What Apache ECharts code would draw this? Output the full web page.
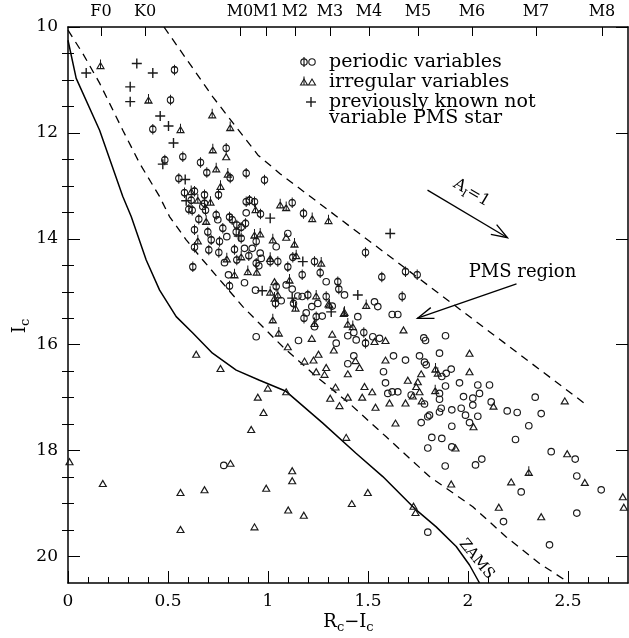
<!DOCTYPE html>
<html>
<head>
<meta charset="utf-8">
<script src="https://cdn.jsdelivr.net/npm/echarts@6/dist/echarts.min.js"></script>
<style>
  html, body { margin: 0; padding: 0; background: #fff; }
  #chart { width: 629px; height: 638px; }
</style>
</head>
<body>
<div id="chart"></div>
<script>
// Colour-magnitude diagram: Ic versus (Rc - Ic)

// periodic variables, circle with bar
const periodicBar = [
  [0.5325,10.81],[0.5125,11.38],[0.424,11.93],[0.791,12.29],[0.484,12.51],[0.574,12.45],
  [0.6625,12.56],[0.694,12.75],[0.811,12.85],[0.891,12.76],[0.9825,12.89],[0.554,12.86],
  [0.5825,13.13],[0.6325,13.10],[0.616,13.27],[0.6825,13.17],[0.6825,13.33],[0.7525,13.17],
  [0.604,13.44],[0.621,13.46],[0.6875,13.46],[0.891,13.30],[0.9075,13.27],[0.9325,13.30],
  [0.9625,13.53],[1.121,13.32],[1.1775,13.52],[0.654,13.63],[0.741,13.55],[0.8075,13.59],
  [0.821,13.64],[0.844,13.74],[0.866,13.78],[0.8875,13.71],[0.6325,13.83],[0.699,13.87],
  [0.774,13.80],[0.716,14.02],[0.7575,14.05],[0.841,13.87],[0.866,13.99],[0.941,14.05],
  [0.6325,14.16],[0.704,14.21],[0.754,14.26],[0.8325,14.20],[0.844,14.40],[0.904,14.32],
  [1.011,14.43],[1.049,14.43],[0.941,14.46],[1.099,14.53],[1.124,14.35],[1.2325,14.43],
  [1.261,14.64],[1.171,14.68],[1.349,14.81],[1.354,14.95],[0.624,14.53],[0.8075,14.89],
  [1.041,14.90],[1.0375,15.22],[1.1275,15.22],[1.291,15.09],[1.199,15.06],[1.241,15.47],
  [1.18,15.50],[1.671,15.09],[1.479,15.77],[1.4875,15.97],[1.4875,14.26],[1.569,14.72],
  [1.6875,14.62],[1.746,14.68]
];

// periodic variables, open circle
const periodicOpen = [
  [0.674,13.39],[0.891,13.51],[0.749,13.64],[0.794,13.96],[1.041,14.15],[1.099,13.90],
  [0.921,14.18],[0.7825,14.45],[0.8825,14.18],[0.961,14.27],[0.966,14.37],[0.954,14.51],
  [1.291,14.81],[0.8025,14.68],[0.8825,14.83],[1.091,14.87],[1.121,14.95],[0.9375,14.97],
  [1.066,15.17],[1.149,15.08],[1.171,15.09],[1.219,15.28],[1.249,15.22],[1.321,15.27],
  [1.191,15.40],[1.271,15.46],[1.2325,15.66],[1.3825,15.06],[1.5325,15.19],[1.549,15.28],
  [1.449,15.47],[1.621,15.43],[1.649,15.43],[0.941,15.85],[1.1525,15.92],[1.341,15.97],
  [1.429,15.77],[1.441,15.91],[1.524,15.85],[1.5575,15.88],[1.399,16.36],[1.429,16.21],
  [1.6275,16.21],[1.6875,16.29],[1.5775,16.51],[1.5875,16.72],[1.599,16.92],[1.621,16.89],
  [1.649,16.89],[0.779,18.28],[1.716,16.95],[1.8575,16.92],[1.8575,17.03],[1.8875,16.78],
  [1.9575,16.72],[1.9775,16.98],[2.024,17.01],[2.049,16.76],[2.0575,16.92],[2.1075,16.76],
  [1.766,17.47],[1.799,17.36],[1.8075,17.33],[1.866,17.20],[1.8575,17.27],[1.919,17.23],
  [1.966,17.20],[1.9875,17.33],[2.024,17.14],[2.049,17.35],[2.0075,17.47],[1.919,17.54],
  [2.116,17.08],[2.196,17.25],[2.246,17.28],[2.336,16.99],[2.366,17.30],[2.304,17.53],
  [2.2375,17.79],[1.819,17.75],[1.869,17.77],[1.799,17.95],[1.919,17.93],[1.886,18.29],
  [2.0375,18.27],[2.069,18.16],[2.416,18.02],[2.536,18.16],[2.544,18.48],[2.266,18.78],
  [2.666,18.74],[2.1775,19.34],[2.544,19.18],[1.799,19.54],[2.4075,19.78],[1.399,15.83],
  [1.779,15.87],[1.7875,15.92],[1.8875,15.83],[1.7575,16.21],[1.7825,16.33],[1.791,16.38],
  [1.8575,16.16],[1.891,16.54],[1.916,16.46],[1.869,16.60],[1.7825,17.12]
];

// irregular variables, triangle with bar
const irregularBar = [
  [0.1625,10.70],[0.4025,11.35],[0.721,11.63],[0.5625,11.91],[0.811,11.87],[0.724,12.29],
  [0.741,12.65],[0.799,12.75],[0.7625,12.98],[0.616,13.08],[0.649,13.24],[0.7125,13.28],
  [0.9375,13.42],[1.061,13.33],[1.091,13.38],[1.221,13.59],[1.3025,13.63],[0.691,13.64],
  [0.649,14.01],[0.9325,13.90],[0.961,13.88],[1.024,13.99],[1.1325,14.07],[0.794,14.35],
  [0.866,14.31],[1.011,14.34],[0.944,14.60],[1.141,14.29],[1.266,14.43],[1.1075,14.75],
  [1.3825,15.36],[1.399,15.58],[0.8325,14.65],[0.899,14.59],[1.049,15.03],[1.011,14.98],
  [1.0325,15.09],[1.1375,15.28],[1.241,15.05],[1.3075,15.22],[1.379,15.38],[1.024,15.50],
  [1.2325,15.57],[1.491,15.23],[1.424,15.63],[1.054,15.75],[1.8375,16.43],[1.849,16.51],
  [1.836,16.84],[2.304,18.38]
];

// irregular variables, open triangle
const irregularOpen = [
  [0.791,12.45],[1.0325,14.81],[1.091,13.97],[1.3025,15.23],[1.219,15.88],[1.099,16.04],
  [1.321,15.80],[1.329,16.10],[1.5325,15.94],[1.5875,15.92],[1.6775,15.72],[1.1825,16.31],
  [1.2275,16.29],[1.2525,16.18],[1.291,16.43],[1.241,16.51],[1.2825,16.56],[1.399,16.55],
  [1.4375,16.30],[1.4575,16.43],[1.5875,16.29],[1.699,16.67],[1.6075,17.10],[1.6875,17.10],
  [1.4825,16.79],[1.521,16.89],[1.471,16.99],[1.5375,17.18],[1.3375,16.80],[1.399,16.99],
  [1.311,17.01],[1.3575,17.15],[1.6375,17.48],[1.091,16.89],[0.999,16.82],[0.949,16.99],
  [0.9775,17.28],[0.916,17.60],[1.391,17.75],[0.641,16.18],[0.7625,16.45],[0.8125,18.24],
  [0.0075,18.21],[0.174,18.62],[0.5625,18.79],[0.6825,18.74],[0.5625,19.49],[0.9325,19.44],
  [0.991,18.71],[1.121,18.38],[1.121,18.57],[1.101,19.12],[1.179,19.22],[1.724,16.97],
  [1.7575,16.89],[1.741,16.79],[1.769,17.06],[2.0275,17.55],[2.1275,17.16],[2.484,17.06],
  [1.9375,17.95],[2.496,18.06],[2.584,18.60],[2.216,18.59],[1.916,18.63],[1.499,18.79],
  [1.419,19.00],[1.7275,19.05],[1.7375,19.17],[2.154,19.07],[2.366,19.25],[2.774,18.87],
  [2.779,19.07],[2.0075,16.16],[2.0075,16.51],[1.766,16.55],[1.749,16.70]
];

// previously known, not variable PMS stars
const knownPMS = [
  [0.091,10.87],[0.344,10.69],[0.424,10.87],[0.311,11.13],[0.311,11.41],[0.461,11.68],
  [0.5025,11.87],[0.5275,12.19],[0.474,12.59],[0.586,12.88],[0.591,13.28],[1.011,13.61],
  [0.854,13.95],[1.174,14.43],[0.971,14.98],[1.121,15.12],[1.316,15.38],[1.449,15.06],
  [1.611,13.90]
];

// zero-age main sequence
const zams = [
  [0,10.25],[0.041,10.97],[0.158,11.95],[0.274,13.2],[0.316,13.58],[0.391,14.4],
  [0.458,14.97],[0.541,15.47],[0.624,15.78],[0.7225,16.16],[0.841,16.48],[0.9575,16.67],
  [1.09,16.88],[1.274,17.48],[1.44,18.05],[1.574,18.49],[1.741,19.12],[1.841,19.44],
  [1.941,19.81],[2.0075,20.16],[2.0575,20.5]
];

// PMS region boundaries
const pmsLower = [
  [0,10.06],[0.074,10.5],[0.158,11.06],[0.274,11.95],[0.3575,12.57],[0.4575,13.2],
  [0.5075,13.58],[0.591,14.02],[0.674,14.4],[0.774,14.84],[0.874,15.28],[0.9575,15.6],
  [1.074,16.04],[1.241,16.6],[1.4075,17.11],[1.591,17.74],[1.8075,18.49],[2.024,19.06],
  [2.191,19.63],[2.3575,20.13],[2.5075,20.5]
];
const pmsUpper = [
  [0.48,10.0],[0.724,11.32],[0.95,12.42],[1.06,12.77],[2.58,17.1]
];

// axis ticks
const xMajor = [0, 0.5, 1, 1.5, 2, 2.5];
const xMajorLabels = ['0', '0.5', '1', '1.5', '2', '2.5'];
const xMinor = [0.1,0.2,0.3,0.4,0.6,0.7,0.8,0.9,1.1,1.2,1.3,1.4,1.6,1.7,1.8,1.9,2.1,2.2,2.3,2.4,2.6,2.7];
const yMajor = [10, 12, 14, 16, 18, 20];
const yMajorLabels = ['10', '12', '14', '16', '18', '20'];
const yMinor = [10.5,11,11.5,12.5,13,13.5,14.5,15,15.5,16.5,17,17.5,18.5,19,19.5];

// spectral types along the top
const spectralTypes = ['F0','K0','M0','M1','M2','M3','M4','M5','M6','M7','M8'];
const spectralColor = [0.165,0.385,0.86,0.99,1.135,1.31,1.505,1.75,2.02,2.34,2.67];

// annotations
const reddeningArrow = [[1.7975,13.08],[2.1975,13.98]];
const reddeningLabelAt = [2.0175,13.13];
const pmsArrow = [[2.2425,14.85],[1.7475,15.50]];
const pmsLabelAt = [2.2725,14.63];
const zamsLabelAt = [2.0425,20.05];

const FONT = '"DejaVu Serif", "Liberation Serif", serif';
const INK = '#000';
const MARK = '#1a1a1a';

const PHI = 'path://M10,8 C10,10.76 7.76,13 5,13 C2.24,13 0,10.76 0,8 C0,5.24 2.24,3 5,3 C7.76,3 10,5.24 10,8 Z M5,0 L5,16';
const TRI_BAR = 'path://M0,15 L5,6.34 L10,15 Z M5,2 L5,15';
const TRI = 'path://M0,8.66 L5,0 L10,8.66 Z';
const PLUS = 'path://M0,5 L10,5 M5,0 L5,10';

function nearestLabel(v, values, labels) {
  let best = 0;
  for (let i = 1; i < values.length; i++) {
    if (Math.abs(values[i] - v) < Math.abs(values[best] - v)) best = i;
  }
  return labels[best];
}

function xAxisBase(extra) {
  return Object.assign({
    type: 'value', min: 0, max: 2.8,
    splitLine: { show: false },
    axisLine: { show: false },
    axisLabel: { show: false },
    axisTick: { show: false }
  }, extra);
}
function yAxisBase(extra) {
  return Object.assign({
    type: 'value', min: 10, max: 20.5, inverse: true,
    splitLine: { show: false },
    axisLine: { show: false },
    axisLabel: { show: false },
    axisTick: { show: false }
  }, extra);
}

const frameLine = { show: true, onZero: false, lineStyle: { color: INK, width: 1.5 } };
const labelStyle = { color: INK, fontFamily: FONT, fontSize: 17 };

function scatter(name, data, symbol, size, width) {
  return {
    name, type: 'scatter', data, symbol, symbolSize: size,
    xAxisIndex: 0, yAxisIndex: 0,
    itemStyle: { color: 'rgba(0,0,0,0)', borderColor: MARK, borderWidth: width || 1.15, opacity: 1 },
    emphasis: { disabled: true }, silent: true, z: 3
  };
}
function curve(name, data, type, width) {
  return {
    name, type: 'line', data, showSymbol: false, symbol: 'none',
    xAxisIndex: 0, yAxisIndex: 0,
    lineStyle: { color: INK, width, type },
    emphasis: { disabled: true }, silent: true, z: 2
  };
}

const chart = echarts.init(document.getElementById('chart'), null, { renderer: 'canvas' });

chart.setOption({
  animation: false,
  backgroundColor: '#fff',
  grid: { left: 68, right: 1, top: 27, bottom: 55, containLabel: false, outerBoundsMode: 'none' },
  xAxis: [
    xAxisBase({
      position: 'bottom', axisLine: frameLine,
      axisTick: { show: true, inside: true, length: 12, customValues: xMajor, lineStyle: { color: INK, width: 1 } },
      axisLabel: Object.assign({ show: true, margin: 10, customValues: xMajor,
        formatter: v => nearestLabel(v, xMajor, xMajorLabels) }, labelStyle)
    }),
    xAxisBase({
      position: 'bottom',
      axisTick: { show: true, inside: true, length: 6, customValues: xMinor, lineStyle: { color: INK, width: 1 } }
    }),
    xAxisBase({
      position: 'top', axisLine: frameLine,
      axisTick: { show: true, inside: true, length: 9, customValues: spectralColor, lineStyle: { color: INK, width: 1 } },
      axisLabel: { show: true, margin: 7, customValues: spectralColor, color: INK, fontFamily: FONT, fontSize: 16,
        formatter: v => nearestLabel(v, spectralColor, spectralTypes) }
    })
  ],
  yAxis: [
    yAxisBase({
      position: 'left', axisLine: frameLine,
      axisTick: { show: true, inside: true, length: 12, customValues: yMajor, lineStyle: { color: INK, width: 1 } },
      axisLabel: Object.assign({ show: true, margin: 10, customValues: yMajor,
        formatter: v => nearestLabel(v, yMajor, yMajorLabels) }, labelStyle)
    }),
    yAxisBase({
      position: 'left',
      axisTick: { show: true, inside: true, length: 6, customValues: yMinor, lineStyle: { color: INK, width: 1 } }
    }),
    yAxisBase({
      position: 'right', axisLine: frameLine,
      axisTick: { show: true, inside: true, length: 12, customValues: yMajor, lineStyle: { color: INK, width: 1 } }
    }),
    yAxisBase({
      position: 'right',
      axisTick: { show: true, inside: true, length: 6, customValues: yMinor, lineStyle: { color: INK, width: 1 } }
    })
  ],
  series: [
    curve('ZAMS', zams, 'solid', 1.5),
    curve('lower bound', pmsLower, [8, 6], 1.3),
    curve('upper bound', pmsUpper, [8, 6], 1.3),
    scatter('irregular', irregularOpen, TRI, [7, 6]),
    scatter('irregular (bar)', irregularBar, TRI_BAR, [7, 9]),
    scatter('periodic', periodicOpen, 'circle', 6.5),
    scatter('periodic (bar)', periodicBar, PHI, [6.5, 10.5], 1.3),
    scatter('known PMS', knownPMS, PLUS, 10, 1.4)
  ]
});

// ---- annotations, legend and axis titles ----
const toPx = p => chart.convertToPixel({ gridIndex: 0 }, p);
const lineStyle = w => ({ stroke: INK, lineWidth: w || 1.2, fill: null });

function arrowElements(from, to) {
  const a = toPx(from), b = toPx(to);
  const ang = Math.atan2(a[1] - b[1], a[0] - b[0]);
  const len = 17, spread = 0.34;
  const b1 = [b[0] + len * Math.cos(ang + spread), b[1] + len * Math.sin(ang + spread)];
  const b2 = [b[0] + len * Math.cos(ang - spread), b[1] + len * Math.sin(ang - spread)];
  return [
    { type: 'line', shape: { x1: a[0], y1: a[1], x2: b[0], y2: b[1] }, style: lineStyle(1.3), silent: true },
    { type: 'polyline', shape: { points: [b1, b, b2] }, style: lineStyle(1.3), silent: true }
  ];
}

const ra = toPx(reddeningArrow[0]), rb = toPx(reddeningArrow[1]);
const reddeningAngle = Math.atan2(rb[1] - ra[1], rb[0] - ra[0]);
const rl = toPx(reddeningLabelAt);
const pl = toPx(pmsLabelAt);
const zl = toPx(zamsLabelAt);

const subRich = size => ({
  m: { fontFamily: FONT, fontSize: size, lineHeight: size + 4, fill: INK },
  s: { fontFamily: FONT, fontSize: Math.round(size * 0.7), fill: INK, padding: [Math.round(size * 0.62), 0, 0, 0] }
});

const legendX = 329;
const legendRows = [62, 82, 102, 118];
const legendTexts = ['periodic variables', 'irregular variables', 'previously known not', 'variable PMS star'];

const legendSymbols = [
  { type: 'circle', shape: { cx: 304, cy: legendRows[0], r: 3.2 }, style: { fill: null, stroke: MARK, lineWidth: 1.2 } },
  { type: 'line', shape: { x1: 304, y1: legendRows[0] - 5, x2: 304, y2: legendRows[0] + 5 }, style: { stroke: MARK, lineWidth: 1.2 } },
  { type: 'circle', shape: { cx: 312, cy: legendRows[0], r: 3.2 }, style: { fill: null, stroke: MARK, lineWidth: 1.1 } },
  { type: 'polygon', shape: { points: [[300.5, legendRows[1] + 3], [304, legendRows[1] - 3], [307.5, legendRows[1] + 3]] }, style: { fill: null, stroke: MARK, lineWidth: 1.1 } },
  { type: 'line', shape: { x1: 304, y1: legendRows[1] - 5.5, x2: 304, y2: legendRows[1] + 3 }, style: { stroke: MARK, lineWidth: 1.1 } },
  { type: 'polygon', shape: { points: [[308.5, legendRows[1] + 3], [312, legendRows[1] - 3], [315.5, legendRows[1] + 3]] }, style: { fill: null, stroke: MARK, lineWidth: 1.1 } },
  { type: 'line', shape: { x1: 306, y1: legendRows[2], x2: 316, y2: legendRows[2] }, style: { stroke: MARK, lineWidth: 1.4 } },
  { type: 'line', shape: { x1: 311, y1: legendRows[2] - 5, x2: 311, y2: legendRows[2] + 5 }, style: { stroke: MARK, lineWidth: 1.4 } }
];

const graphics = []
  .concat(arrowElements(reddeningArrow[0], reddeningArrow[1]))
  .concat(arrowElements(pmsArrow[0], pmsArrow[1]))
  .concat(legendSymbols.map(e => Object.assign({ silent: true }, e)))
  .concat(legendTexts.map((t, i) => ({
    type: 'text', silent: true,
    style: { text: t, x: legendX, y: legendRows[i], fill: INK, font: '19px ' + FONT, align: 'left', verticalAlign: 'middle' }
  })))
  .concat([
    {
      type: 'text', silent: true, x: pl[0], y: pl[1],
      style: { text: 'PMS region', fill: INK, font: '18px ' + FONT, align: 'center', verticalAlign: 'middle' }
    },
    {
      type: 'text', silent: true, x: rl[0], y: rl[1], rotation: -reddeningAngle,
      style: { text: '{m|A}{s|I}{m|=1}', rich: subRich(16), align: 'center', verticalAlign: 'middle' }
    },
    {
      type: 'text', silent: true, x: zl[0], y: zl[1], rotation: -0.89,
      style: { text: 'ZAMS', fill: INK, font: '15px ' + FONT, align: 'center', verticalAlign: 'middle' }
    },
    {
      type: 'text', silent: true, x: 348.5, y: 622,
      style: { text: '{m|R}{s|c}{m|\u2212I}{s|c}', rich: subRich(18), align: 'center', verticalAlign: 'middle' }
    },
    {
      type: 'text', silent: true, x: 20, y: 326, rotation: Math.PI / 2,
      style: { text: '{m|I}{s|c}', rich: subRich(18), align: 'center', verticalAlign: 'middle' }
    }
  ]);

chart.setOption({ graphic: graphics });
</script>
</body>
</html>
